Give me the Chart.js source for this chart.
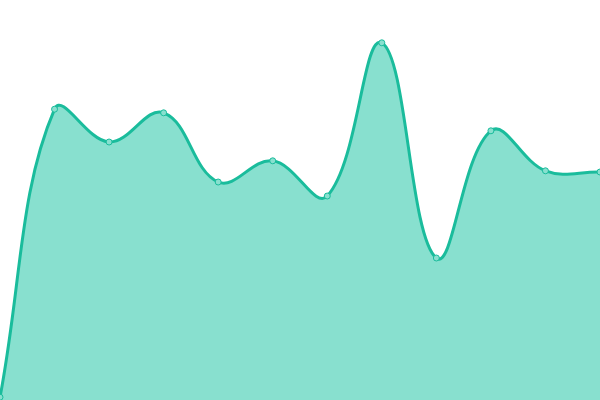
<!DOCTYPE html>
<html><head><meta charset="utf-8">
<script src="https://cdn.jsdelivr.net/npm/chart.js@4"></script>
<style>html,body{margin:0;padding:0;background:#fff}#wrap{width:600px;height:400px}</style>
</head><body><div id="wrap"><canvas id="c"></canvas></div>
<script>
const labels = ["1","2","3","4","5","6","7","8","9","10","11","12"];
const values = [0.7, 72.7, 64.5, 71.8, 54.5, 59.8, 51, 89.3, 35.5, 67.3, 57.3, 57];
new Chart(document.getElementById('c'), {
  type: 'line',
  data: { labels: labels, datasets: [{
    data: values,
    fill: true,
    backgroundColor: '#88e0cf',
    borderColor: '#1abc9c',
    borderWidth: 3,
    tension: 0.4,
    pointRadius: 3,
    pointBorderWidth: 1,
    pointBackgroundColor: '#88e0cf',
    pointBorderColor: '#1abc9c'
  }]},
  options: {
    responsive: true, maintainAspectRatio: false, animation: false,
    layout: { padding: 0, autoPadding: false },
    plugins: { legend: { display: false }, tooltip: { enabled: false } },
    scales: {
      x: { display: false },
      y: { display: false, min: 0, max: 100 }
    }
  }
});
</script></body></html>
